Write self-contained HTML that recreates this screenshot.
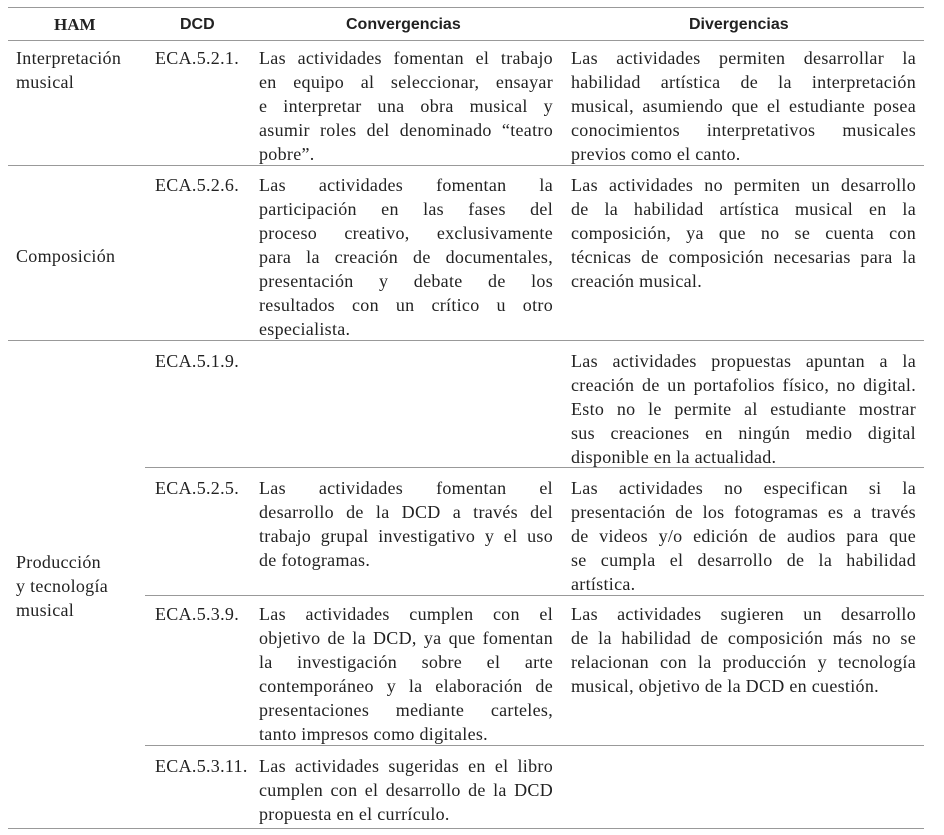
<!DOCTYPE html>
<html><head><meta charset="utf-8"><style>
body{margin:0;width:944px;height:835px;background:#fff;position:relative;font-family:"Liberation Serif",serif;font-size:18px;letter-spacing:0.3px;color:#222;overflow:hidden}
.h{position:absolute;height:1px;background:#999}
.t{position:absolute;line-height:24px;white-space:nowrap}
.p{position:absolute;line-height:24px}
.p span{display:block;white-space:nowrap}
.p span.j{text-align:justify;text-align-last:justify;white-space:normal}
.b{font-weight:bold;font-family:"Liberation Sans",sans-serif;font-size:16px;letter-spacing:0}
.c3{left:259px;width:294px}
.c4{left:571px;width:345px}
</style></head><body>
<div class="h" style="left:8px;width:916px;top:7px"></div>
<div class="h" style="left:8px;width:916px;top:40px"></div>
<div class="h" style="left:8px;width:916px;top:165px"></div>
<div class="h" style="left:8px;width:916px;top:340px"></div>
<div class="h" style="left:145px;width:779px;top:467px"></div>
<div class="h" style="left:145px;width:779px;top:595px"></div>
<div class="h" style="left:145px;width:779px;top:745px"></div>
<div class="h" style="left:8px;width:916px;top:828px"></div>

<div class="t b" style="left:54px;top:13px;font-family:'Liberation Serif',serif;font-size:17px">HAM</div>
<div class="t b" style="left:180px;top:13px">DCD</div>
<div class="t b" style="left:346px;top:13px">Convergencias</div>
<div class="t b" style="left:689px;top:13px">Divergencias</div>

<div class="t" style="left:16px;top:46px">Interpretación<br>musical</div>
<div class="t" style="left:16px;top:244px">Composición</div>
<div class="t" style="left:16px;top:550px">Producción<br>y tecnología<br>musical</div>

<div class="t" style="left:155px;top:46px">ECA.5.2.1.</div>
<div class="t" style="left:155px;top:173px">ECA.5.2.6.</div>
<div class="t" style="left:155px;top:349px">ECA.5.1.9.</div>
<div class="t" style="left:155px;top:476px">ECA.5.2.5.</div>
<div class="t" style="left:155px;top:602px">ECA.5.3.9.</div>
<div class="t" style="left:155px;top:754px">ECA.5.3.11.</div>

<div class="p c3" style="top:46px"><span class="j">Las actividades fomentan el trabajo</span><span class="j">en equipo al seleccionar, ensayar</span><span class="j">e interpretar una obra musical y</span><span class="j">asumir roles del denominado “teatro</span><span>pobre”.</span></div>
<div class="p c4" style="top:46px"><span class="j">Las actividades permiten desarrollar la</span><span class="j">habilidad artística de la interpretación</span><span class="j">musical, asumiendo que el estudiante posea</span><span class="j">conocimientos interpretativos musicales</span><span>previos como el canto.</span></div>

<div class="p c3" style="top:173px"><span class="j">Las actividades fomentan la</span><span class="j">participación en las fases del</span><span class="j">proceso creativo, exclusivamente</span><span class="j">para la creación de documentales,</span><span class="j">presentación y debate de los</span><span class="j">resultados con un crítico u otro</span><span>especialista.</span></div>
<div class="p c4" style="top:173px"><span class="j">Las actividades no permiten un desarrollo</span><span class="j">de la habilidad artística musical en la</span><span class="j">composición, ya que no se cuenta con</span><span class="j">técnicas de composición necesarias para la</span><span>creación musical.</span></div>

<div class="p c4" style="top:349px"><span class="j">Las actividades propuestas apuntan a la</span><span class="j">creación de un portafolios físico, no digital.</span><span class="j">Esto no le permite al estudiante mostrar</span><span class="j">sus creaciones en ningún medio digital</span><span>disponible en la actualidad.</span></div>

<div class="p c3" style="top:476px"><span class="j">Las actividades fomentan el</span><span class="j">desarrollo de la DCD a través del</span><span class="j">trabajo grupal investigativo y el uso</span><span>de fotogramas.</span></div>
<div class="p c4" style="top:476px"><span class="j">Las actividades no especifican si la</span><span class="j">presentación de los fotogramas es a través</span><span class="j">de videos y/o edición de audios para que</span><span class="j">se cumpla el desarrollo de la habilidad</span><span>artística.</span></div>

<div class="p c3" style="top:602px"><span class="j">Las actividades cumplen con el</span><span class="j">objetivo de la DCD, ya que fomentan</span><span class="j">la investigación sobre el arte</span><span class="j">contemporáneo y la elaboración de</span><span class="j">presentaciones mediante carteles,</span><span>tanto impresos como digitales.</span></div>
<div class="p c4" style="top:602px"><span class="j">Las actividades sugieren un desarrollo</span><span class="j">de la habilidad de composición más no se</span><span class="j">relacionan con la producción y tecnología</span><span>musical, objetivo de la DCD en cuestión.</span></div>

<div class="p c3" style="top:754px"><span class="j">Las actividades sugeridas en el libro</span><span class="j">cumplen con el desarrollo de la DCD</span><span>propuesta en el currículo.</span></div>
</body></html>
